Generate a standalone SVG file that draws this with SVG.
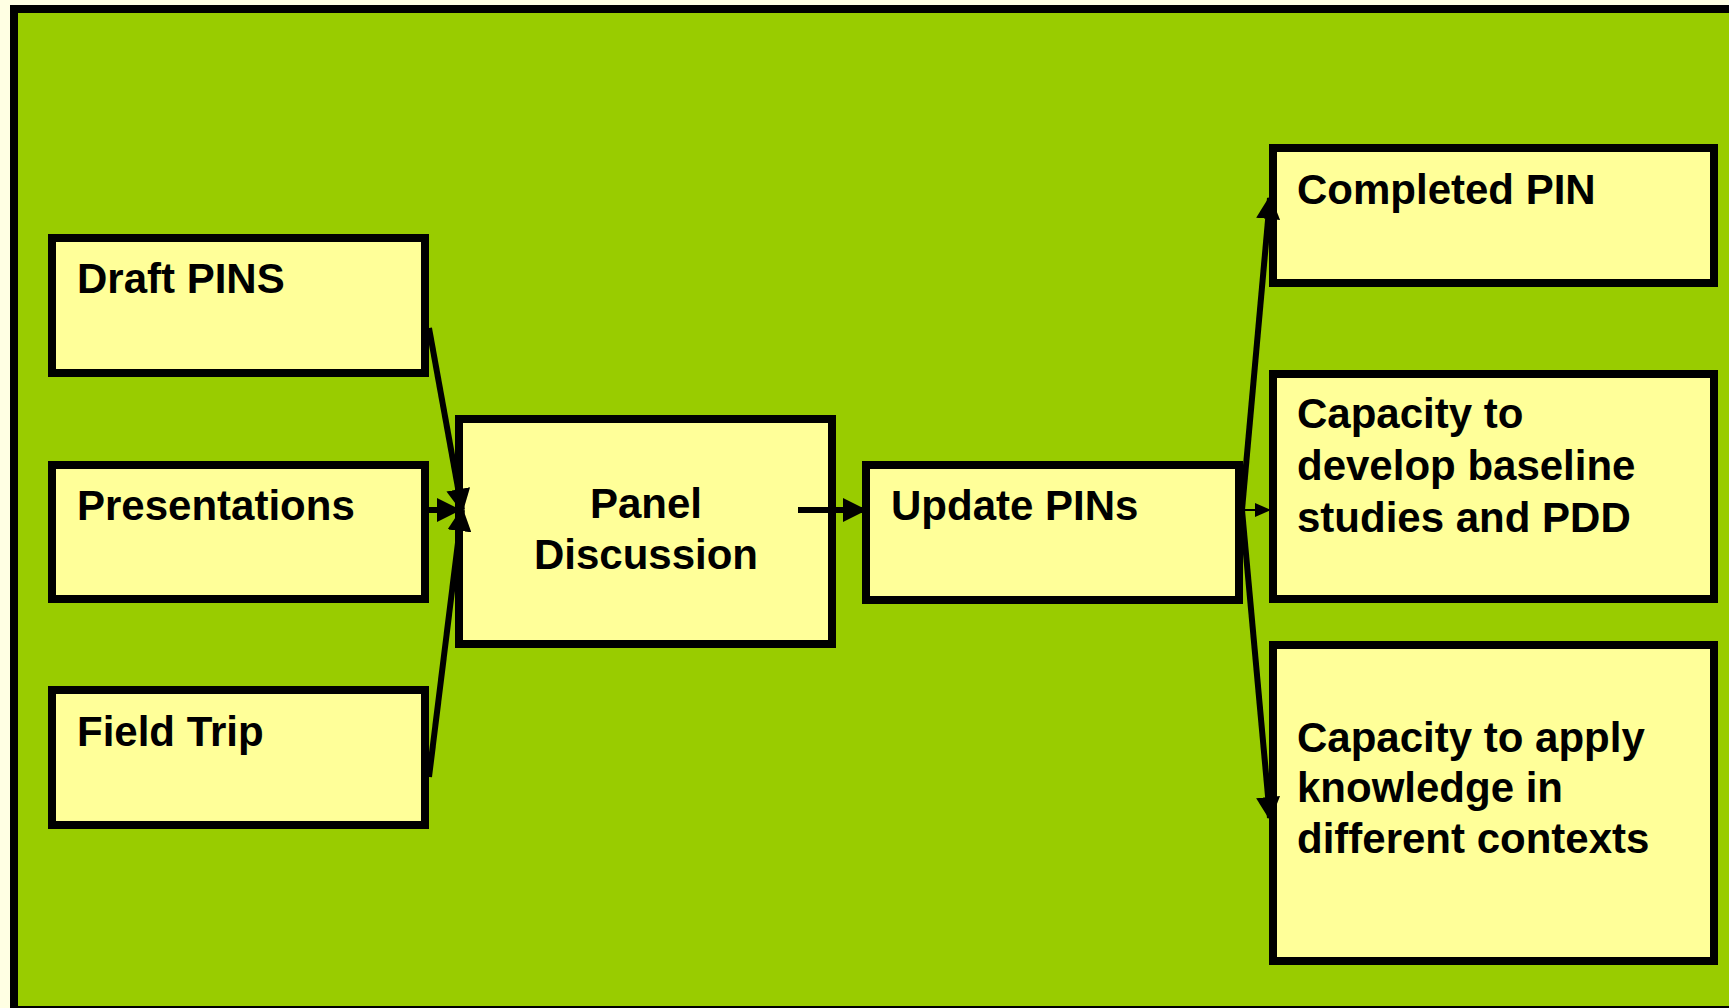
<svg xmlns="http://www.w3.org/2000/svg" width="1729" height="1008" viewBox="0 0 1729 1008">
<style>
.box{fill:#FFFF99;stroke:#000;stroke-width:8}
.t{font-family:"Liberation Sans",Arial,sans-serif;font-weight:bold;font-size:42px;fill:#000}
.c{stroke:#000;stroke-width:6;fill:none}
.thin{stroke:#000;stroke-width:2;fill:none}
</style>
<defs>
<marker id="ah" markerWidth="4" markerHeight="4" refX="3.5" refY="2" orient="auto" markerUnits="strokeWidth" viewBox="0 0 4 4">
<path d="M0,0 L4,2 L0,4 Z" fill="#000"/>
</marker>
<marker id="ahs" markerWidth="8" markerHeight="7" refX="7.5" refY="3.5" orient="auto" markerUnits="strokeWidth" viewBox="0 0 8 7">
<path d="M0,0 L8,3.5 L0,7 Z" fill="#000"/>
</marker>
</defs>
<rect x="0" y="0" width="1729" height="1008" fill="#FFFFE3"/>
<rect x="14" y="9" width="1730" height="1001" fill="#99CC00" stroke="#000" stroke-width="8"/>

<g id="draft-pins"><rect class="box" x="52" y="238" width="373" height="135"/><text class="t" x="77" y="293">Draft PINS</text></g>
<g id="presentations"><rect class="box" x="52" y="465" width="373" height="134"/><text class="t" x="77" y="520">Presentations</text></g>
<g id="field-trip"><rect class="box" x="52" y="690" width="373" height="135"/><text class="t" x="77" y="746">Field Trip</text></g>
<g id="panel-discussion"><rect class="box" x="459" y="419" width="373" height="225"/><text class="t" x="646" y="518" text-anchor="middle">Panel</text><text class="t" x="646" y="569" text-anchor="middle">Discussion</text></g>
<g id="update-pins"><rect class="box" x="866" y="465" width="373" height="135"/><text class="t" x="891" y="520">Update PINs</text></g>
<g id="completed-pin"><rect class="box" x="1273" y="148" width="441" height="135"/><text class="t" x="1297" y="204">Completed PIN</text></g>
<g id="capacity-develop"><rect class="box" x="1273" y="374" width="441" height="225"/><text class="t" x="1297" y="428">Capacity to</text><text class="t" x="1297" y="480">develop baseline</text><text class="t" x="1297" y="532">studies and PDD</text></g>
<g id="capacity-apply"><rect class="box" x="1273" y="645" width="441" height="316"/><text class="t" x="1297" y="752">Capacity to apply</text><text class="t" x="1297" y="802">knowledge in</text><text class="t" x="1297" y="853">different contexts</text></g>

<g id="connectors">
<line class="c" x1="429" y1="328" x2="462" y2="510" marker-end="url(#ah)"/>
<line class="c" x1="427" y1="510" x2="458" y2="510" marker-end="url(#ah)"/>
<line class="c" x1="429" y1="777" x2="462" y2="510" marker-end="url(#ah)"/>
<line class="c" x1="798" y1="510" x2="864" y2="510" marker-end="url(#ah)"/>
<line class="c" x1="1242" y1="510" x2="1270" y2="198" marker-end="url(#ah)"/>
<line class="thin" x1="1242" y1="510" x2="1270" y2="510" marker-end="url(#ahs)"/>
<line class="c" x1="1242" y1="510" x2="1270" y2="818" marker-end="url(#ah)"/>
</g>
</svg>
